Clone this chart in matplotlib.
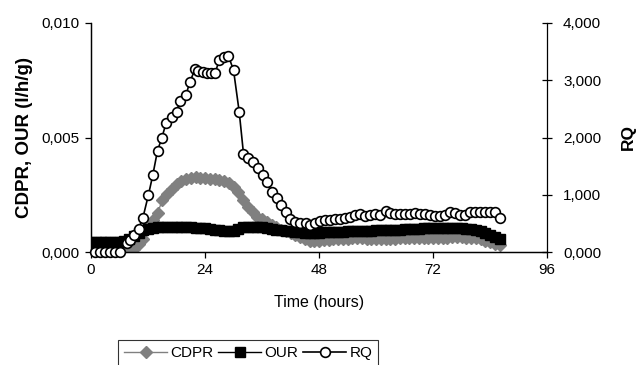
import matplotlib
matplotlib.use("Agg")
import matplotlib.pyplot as plt
from matplotlib.ticker import FuncFormatter, FixedLocator

plt.rcParams["font.family"] = ["Liberation Sans", "DejaVu Sans"]

# --- data ---
t_rate = [
    0, 1, 2, 3, 4, 5, 6, 7, 8, 9, 10, 11, 12, 13, 14, 15, 16, 17, 18, 19,
    20, 21, 22, 23, 24, 25, 26, 27, 28, 29, 30, 31, 32, 33, 34, 35, 36, 37, 38, 39,
    40, 41, 42, 43, 44, 45, 46, 47, 48, 49, 50, 51, 52, 53, 54, 55, 56, 57, 58, 59,
    60, 61, 62, 63, 64, 65, 66, 67, 68, 69, 70, 71, 72, 73, 74, 75, 76, 77, 78, 79,
    80, 81, 82, 83, 84, 85, 86,
]
cdpr_milli = [
    0.00, 0.00, 0.00, 0.00, 0.00, 0.00, 0.00, 0.02, 0.05, 0.15, 0.35, 0.55, 1.15, 1.40,
    1.70, 2.25, 2.55, 2.75, 2.95, 3.10, 3.20, 3.25, 3.28, 3.25, 3.23, 3.20, 3.18, 3.15,
    3.10, 3.02, 2.85, 2.62, 2.25, 1.95, 1.75, 1.55, 1.42, 1.30, 1.18, 1.08, 0.98, 0.90,
    0.84, 0.76, 0.66, 0.55, 0.48, 0.48, 0.50, 0.52, 0.53, 0.55, 0.56, 0.56, 0.57, 0.60,
    0.62, 0.60, 0.58, 0.57, 0.58, 0.58, 0.57, 0.57, 0.58, 0.59, 0.60, 0.60, 0.60, 0.60,
    0.61, 0.62, 0.63, 0.62, 0.62, 0.63, 0.64, 0.64, 0.64, 0.63, 0.62, 0.60, 0.56, 0.50,
    0.44, 0.36, 0.30,
]
our_milli = [
    0.45, 0.45, 0.45, 0.45, 0.45, 0.45, 0.44, 0.48, 0.58, 0.72, 0.85, 0.95, 1.02, 1.06,
    1.08, 1.10, 1.10, 1.10, 1.10, 1.09, 1.08, 1.07, 1.06, 1.05, 1.03, 1.00, 0.98, 0.95,
    0.92, 0.90, 0.92, 1.02, 1.08, 1.10, 1.10, 1.10, 1.08, 1.05, 1.02, 0.98, 0.95, 0.92,
    0.90, 0.88, 0.86, 0.85, 0.83, 0.82, 0.84, 0.86, 0.88, 0.88, 0.88, 0.89, 0.90, 0.92,
    0.93, 0.92, 0.91, 0.92, 0.94, 0.95, 0.96, 0.96, 0.97, 0.98, 0.99, 1.00, 1.01, 1.02,
    1.03, 1.04, 1.05, 1.05, 1.05, 1.05, 1.05, 1.04, 1.03, 1.02, 1.00, 0.97, 0.92, 0.84,
    0.76, 0.66, 0.58,
]
cdpr = [v / 1000 for v in cdpr_milli]
our = [v / 1000 for v in our_milli]

t_rq = [
    0.8, 1.9, 3.0, 4.0, 5.0, 6.1, 7.5, 8.2, 9.1, 10.0, 10.9, 12.1, 13.0, 14.0, 14.9,
    15.8, 17.0, 18.0, 18.7, 20.0, 20.8, 21.9, 22.6, 23.5, 24.4, 25.2, 26.1, 27.0, 28.0,
    28.9, 30.0, 31.2, 32.1, 33.1, 34.2, 35.2, 36.3, 37.1, 38.0, 39.1, 40.1, 41.1, 41.9,
    42.9, 44.1, 45.3, 46.1, 47.2, 48.2, 49.3, 50.3, 51.4, 52.4, 53.5, 54.5, 55.6, 56.6,
    57.7, 58.7, 59.8, 60.8, 62.1, 62.9, 64.0, 65.1, 66.1, 67.2, 68.2, 69.3, 70.3, 71.4,
    72.4, 73.5, 74.5, 75.6, 76.6, 77.7, 78.7, 79.8, 80.8, 81.9, 82.9, 84.0, 85.1, 86.1,
]
rq = [
    0.00, 0.00, 0.00, 0.00, 0.00, 0.00, 0.15, 0.21, 0.30, 0.41, 0.59, 1.00, 1.34, 1.77, 1.99,
    2.25, 2.36, 2.45, 2.63, 2.74, 2.97, 3.19, 3.17, 3.15, 3.13, 3.12, 3.12, 3.35, 3.41,
    3.43, 3.18, 2.45, 1.72, 1.64, 1.58, 1.46, 1.34, 1.23, 1.05, 0.94, 0.82, 0.69, 0.57,
    0.53, 0.51, 0.50, 0.47, 0.51, 0.55, 0.56, 0.56, 0.57, 0.58, 0.59, 0.62, 0.65, 0.66,
    0.63, 0.65, 0.66, 0.65, 0.72, 0.68, 0.66, 0.66, 0.66, 0.66, 0.68, 0.66, 0.66, 0.65,
    0.63, 0.63, 0.65, 0.69, 0.68, 0.65, 0.65, 0.69, 0.70, 0.70, 0.69, 0.69, 0.70, 0.59,
]

x_ticks = [0, 24, 48, 72, 96]
left_ticks = [0.0, 0.005, 0.010]
right_ticks = [0, 1, 2, 3, 4]


def comma3(v, _pos=None):
    return f"{v:.3f}".replace(".", ",")


fig = plt.figure(figsize=(6.38, 3.65), dpi=100)
ax = fig.add_axes([91 / 638, 1 - 252 / 365, 456 / 638, 229 / 365])
ax2 = ax.twinx()

l1, = ax.plot(t_rate, cdpr, color="#808080", linewidth=1.0, marker="D",
              markersize=6, markerfacecolor="#808080", markeredgecolor="#808080",
              label="CDPR", zorder=2)
l2, = ax.plot(t_rate, our, color="black", linewidth=1.0, marker="s",
              markersize=6.5, markerfacecolor="black", markeredgecolor="black",
              label="OUR", zorder=3)
l3, = ax2.plot(t_rq, rq, color="black", linewidth=1.2, marker="o",
               markersize=7, markerfacecolor="white", markeredgecolor="black",
               markeredgewidth=1.2, label="RQ", zorder=4, clip_on=False)

ax.set_xlim(0, 96)
ax.set_ylim(0, 0.010)
ax2.set_ylim(0, 4)
ax.xaxis.set_major_locator(FixedLocator(x_ticks))
ax.yaxis.set_major_locator(FixedLocator(left_ticks))
ax2.yaxis.set_major_locator(FixedLocator(right_ticks))
ax.yaxis.set_major_formatter(FuncFormatter(comma3))
ax2.yaxis.set_major_formatter(FuncFormatter(comma3))

for a in (ax, ax2):
    a.spines["top"].set_visible(False)
    for s in a.spines.values():
        s.set_linewidth(0.9)
ax.spines["right"].set_visible(False)
ax.tick_params(axis="both", direction="out", length=4, width=0.9,
               labelsize=11, pad=4)
ax2.tick_params(axis="y", direction="inout", length=7, width=0.9,
                labelsize=11, pad=8)

ax.set_xlabel("Time (hours)", fontsize=11.5, labelpad=13)
ax.set_ylabel("CDPR, OUR (l/h/g)", fontsize=13.5, fontweight="bold", labelpad=6)
ax2.set_ylabel("RQ", fontsize=12.5, fontweight="bold", labelpad=14)

leg = fig.legend(handles=[l1, l2, l3], loc="upper left", ncol=3,
                 bbox_to_anchor=(118 / 638, 1 - 340 / 365),
                 bbox_transform=fig.transFigure, fontsize=11, frameon=True,
                 fancybox=False, handlelength=2.8, handletextpad=0.2,
                 columnspacing=0.35, borderpad=0.4, borderaxespad=0.0)
leg.get_frame().set_edgecolor("black")
leg.get_frame().set_linewidth(0.8)

fig.savefig("out.png", dpi=100)
